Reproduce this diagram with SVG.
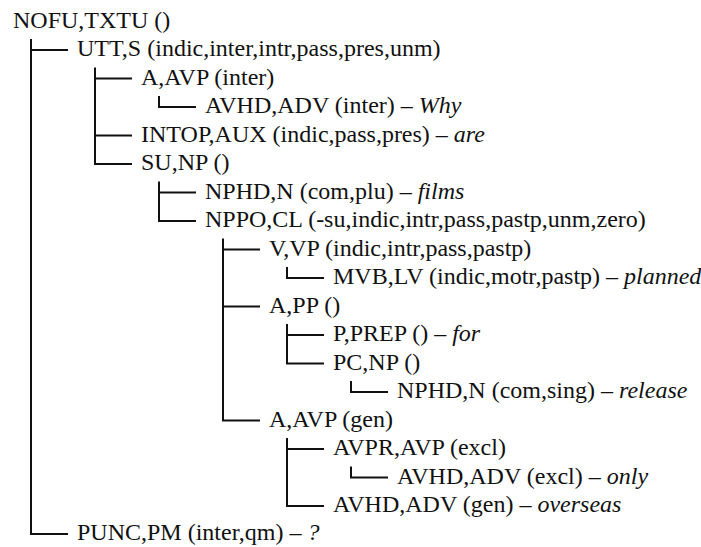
<svg xmlns="http://www.w3.org/2000/svg" width="701" height="547" viewBox="0 0 701 547">
<style>
text{font-size:24px;fill:#111}
.w{font-style:italic}
.c{fill:none;stroke:#111;stroke-width:2}
</style>
<rect width="701" height="547" fill="#fff"/>
<g id="connectors">
<path class="c" d="M31 39 V534 H68 M31 50 H68"/>
<path class="c" d="M95 67.5 V164 H132 M95 78.5 H132 M95 135.5 H132"/>
<path class="c" d="M159 96 V107 H196"/>
<path class="c" d="M159 181.5 V221 H196 M159 192.5 H196"/>
<path class="c" d="M223 238.5 V420.5 H260 M223 249.5 H260 M223 306.5 H260"/>
<path class="c" d="M287 267 V278 H324"/>
<path class="c" d="M287 324 V363.5 H324 M287 335 H324"/>
<path class="c" d="M351 381 V392 H388"/>
<path class="c" d="M287 438 V506 H324 M287 449 H324"/>
<path class="c" d="M351 466.5 V477.5 H388"/>
</g>
<text id="n0" font-family="Liberation Serif" x="13" y="27.5">NOFU,TXTU ()</text>
<text id="n1" font-family="Liberation Serif" x="77" y="56">UTT,S (indic,inter,intr,pass,pres,unm)</text>
<text id="n2" font-family="Liberation Serif" x="141" y="84.5">A,AVP (inter)</text>
<text id="n3" font-family="Liberation Serif" x="205" y="113">AVHD,ADV (inter) – <tspan class="w">Why</tspan></text>
<text id="n4" font-family="Liberation Serif" x="141" y="141.5">INTOP,AUX (indic,pass,pres) – <tspan class="w">are</tspan></text>
<text id="n5" font-family="Liberation Serif" x="141" y="170">SU,NP ()</text>
<text id="n6" font-family="Liberation Serif" x="205" y="198.5">NPHD,N (com,plu) – <tspan class="w">films</tspan></text>
<text id="n7" font-family="Liberation Serif" x="205" y="227">NPPO,CL (-su,indic,intr,pass,pastp,unm,zero)</text>
<text id="n8" font-family="Liberation Serif" x="269" y="255.5">V,VP (indic,intr,pass,pastp)</text>
<text id="n9" font-family="Liberation Serif" x="333" y="284">MVB,LV (indic,motr,pastp) – <tspan class="w">planned</tspan></text>
<text id="n10" font-family="Liberation Serif" x="269" y="312.5">A,PP ()</text>
<text id="n11" font-family="Liberation Serif" x="333" y="341">P,PREP () – <tspan class="w">for</tspan></text>
<text id="n12" font-family="Liberation Serif" x="333" y="369.5">PC,NP ()</text>
<text id="n13" font-family="Liberation Serif" x="397" y="398">NPHD,N (com,sing) – <tspan class="w">release</tspan></text>
<text id="n14" font-family="Liberation Serif" x="269" y="426.5">A,AVP (gen)</text>
<text id="n15" font-family="Liberation Serif" x="333" y="455">AVPR,AVP (excl)</text>
<text id="n16" font-family="Liberation Serif" x="397" y="483.5">AVHD,ADV (excl) – <tspan class="w">only</tspan></text>
<text id="n17" font-family="Liberation Serif" x="333" y="512">AVHD,ADV (gen) – <tspan class="w">overseas</tspan></text>
<text id="n18" font-family="Liberation Serif" x="77" y="540">PUNC,PM (inter,qm) – <tspan class="w">?</tspan></text>
</svg>
